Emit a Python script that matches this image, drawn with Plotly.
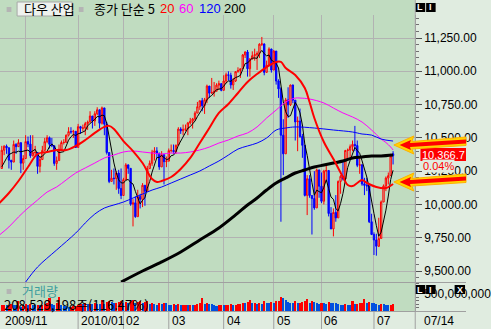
import plotly.graph_objects as go
import pandas as pd

# ---------------- data ----------------
month_days = [
    (2009, 11, [16, 17, 18, 19, 20, 23, 24, 25, 27, 30]),
    (2009, 12, [1, 2, 3, 4, 7, 8, 9, 10, 11, 14, 15, 16, 17, 18, 21, 22, 23, 24, 28, 29, 30, 31]),
    (2010, 1, [4, 5, 6, 7, 8, 11, 12, 13, 14, 15, 19, 20, 21, 22, 25, 26, 27, 28, 29]),
    (2010, 2, [1, 2, 3, 4, 5, 8, 9, 10, 11, 12, 16, 17, 18, 19, 22, 23, 24, 25, 26]),
    (2010, 3, [1, 2, 3, 4, 5, 8, 9, 10, 11, 12, 15, 16, 17, 18, 19, 22, 23, 24, 25, 26, 29, 30, 31]),
    (2010, 4, [1, 5, 6, 7, 8, 9, 12, 13, 14, 15, 16, 19, 20, 21, 22, 23, 26, 27, 28, 29, 30]),
    (2010, 5, [3, 4, 5, 6, 7, 10, 11, 12, 13, 14, 17, 18, 19, 20, 21, 24, 25, 26, 27, 28]),
    (2010, 6, [1, 2, 3, 4, 7, 8, 9, 10, 11, 14, 15, 16, 17, 18, 21, 22, 23, 24, 25, 28, 29, 30]),
    (2010, 7, [1, 2, 6, 7, 8, 9, 12, 13, 14]),
]
dates = [f"{y}-{m:02d}-{d:02d}" for y, m, days in month_days for d in days]

opens = [
    10270, 10407, 10437, 10426, 10332, 10318, 10451, 10434, 10464, 10310,
    10345, 10472, 10453, 10366, 10389, 10390, 10286, 10337, 10406, 10472, 10501, 10452, 10441, 10308, 10329, 10414, 10465, 10466, 10520, 10547, 10545, 10549,
    10428, 10584, 10572, 10574, 10607, 10618, 10664, 10627, 10681, 10711, 10610, 10725, 10603, 10390, 10173, 10197, 10194, 10236, 10120,
    10067, 10186, 10297, 10271, 10002, 10012, 9908, 10059, 10038, 10144, 10099, 10269, 10309, 10393, 10402, 10383, 10282, 10374, 10321,
    10325, 10404, 10406, 10397, 10444, 10566, 10553, 10564, 10567, 10612, 10625, 10642, 10686, 10734, 10779, 10742, 10786, 10889, 10836, 10841, 10850, 10896, 10907,
    10857, 10927, 10974, 10970, 10898, 10927, 10997, 11006, 11019, 11123, 11145, 11019, 11092, 11117, 11125, 11134, 11204, 11205, 10992, 11045, 11167,
    11009, 11152, 10927, 10868, 10520, 10380, 10785, 10748, 10897, 10783, 10620, 10626, 10511, 10444, 10068, 10193, 10067, 10044, 9974, 10259,
    10137, 10024, 10250, 10255, 9932, 9816, 9940, 9899, 10173, 10211, 10191, 10405, 10409, 10434, 10451, 10442, 10294, 10298, 10153, 10144, 10139, 9870,
    9774, 9733, 9686, 9744, 10018, 10139, 10198, 10216, 10380,
]
highs = [
    10440, 10445, 10450, 10426, 10332, 10480, 10460, 10490, 10464, 10370,
    10520, 10510, 10520, 10520, 10440, 10390, 10360, 10440, 10500, 10520, 10510, 10500, 10441, 10360, 10450, 10480, 10490, 10525, 10580, 10580, 10560, 10550,
    10605, 10590, 10600, 10620, 10630, 10700, 10664, 10700, 10730, 10711, 10735, 10725, 10620, 10390, 10260, 10270, 10250, 10260, 10270,
    10200, 10310, 10300, 10271, 10040, 10060, 10110, 10080, 10160, 10144, 10290, 10330, 10410, 10430, 10430, 10390, 10400, 10374, 10360,
    10420, 10450, 10450, 10450, 10580, 10580, 10600, 10600, 10620, 10650, 10650, 10700, 10770, 10780, 10800, 10800, 10900, 10890, 10950, 10920, 10910, 10930, 10910,
    10970, 10990, 11000, 10990, 10950, 11000, 11030, 11020, 11130, 11150, 11160, 11100, 11150, 11170, 11150, 11210, 11258, 11210, 11080, 11180, 11170,
    11160, 11152, 10940, 10880, 10640, 10800, 10880, 10900, 10900, 10783, 10660, 10720, 10530, 10444, 10220, 10220, 10067, 10250, 10270, 10260,
    10240, 10260, 10300, 10255, 9980, 9970, 10070, 10180, 10220, 10320, 10410, 10420, 10450, 10480, 10590, 10480, 10350, 10300, 10200, 10200, 10139, 9930,
    9790, 9780, 9900, 10030, 10150, 10210, 10240, 10380, 10400,
]
lows = [
    10270, 10370, 10380, 10270, 10260, 10318, 10380, 10434, 10235, 10260,
    10345, 10430, 10350, 10360, 10370, 10230, 10240, 10337, 10406, 10460, 10420, 10430, 10290, 10260, 10329, 10400, 10450, 10466, 10510, 10530, 10500, 10425,
    10428, 10530, 10550, 10520, 10560, 10618, 10570, 10590, 10670, 10570, 10600, 10520, 10375, 10160, 10173, 10150, 10110, 10080, 10040,
    10067, 10185, 10230, 9990, 9835, 9900, 9908, 9970, 9980, 9990, 10099, 10269, 10290, 10330, 10350, 10260, 10282, 10150, 10280,
    10325, 10390, 10380, 10380, 10444, 10530, 10520, 10550, 10520, 10600, 10570, 10630, 10686, 10710, 10700, 10680, 10760, 10800, 10830, 10810, 10850, 10860, 10850,
    10857, 10910, 10930, 10870, 10860, 10920, 10990, 10950, 11019, 11100, 10960, 10960, 11090, 11080, 11010, 11100, 11190, 10970, 10990, 11045, 10990,
    11009, 10900, 10800, 9870, 10220, 10380, 10650, 10740, 10760, 10480, 10400, 10500, 10350, 10060, 9920, 10050, 9774, 9960, 9974, 10050,
    10010, 10000, 10170, 9910, 9815, 9760, 9870, 9899, 10080, 10180, 10191, 10340, 10350, 10400, 10400, 10280, 10230, 10140, 10070, 10100, 9860, 9770,
    9620, 9615, 9680, 9744, 10018, 10100, 10150, 10216, 10300,
]
closes = [
    10407, 10437, 10426, 10332, 10318, 10451, 10434, 10464, 10310, 10345,
    10472, 10453, 10366, 10389, 10390, 10286, 10337, 10406, 10472, 10501, 10452, 10441, 10308, 10329, 10414, 10465, 10466, 10520, 10547, 10545, 10549, 10428,
    10584, 10572, 10574, 10607, 10618, 10664, 10627, 10681, 10711, 10610, 10725, 10603, 10390, 10173, 10197, 10194, 10236, 10120, 10067,
    10186, 10297, 10271, 10002, 10012, 9908, 10059, 10038, 10144, 10099, 10269, 10309, 10393, 10402, 10383, 10282, 10374, 10321, 10325,
    10404, 10406, 10397, 10444, 10566, 10553, 10564, 10567, 10612, 10625, 10642, 10686, 10734, 10779, 10742, 10786, 10889, 10836, 10841, 10850, 10896, 10907, 10857,
    10927, 10974, 10970, 10898, 10927, 10997, 11006, 11019, 11123, 11145, 11019, 11092, 11117, 11125, 11134, 11204, 11205, 10992, 11045, 11167, 11009,
    11152, 10927, 10868, 10520, 10380, 10785, 10748, 10897, 10783, 10620, 10626, 10511, 10444, 10068, 10193, 10067, 10044, 9974, 10259, 10137,
    10024, 10250, 10255, 9932, 9816, 9940, 9899, 10173, 10211, 10191, 10405, 10409, 10434, 10451, 10442, 10294, 10298, 10153, 10144, 10139, 9870, 9774,
    9733, 9686, 9744, 10018, 10139, 10198, 10216, 10363, 10366.7,
]
prior_closes = [10247, 10291, 10197, 10270]  # four sessions before the first candle (for the 5-day average)

volumes_m = [  # millions of shares
    165, 180, 170, 190, 215, 180, 175, 300, 120, 190,
    210, 185, 200, 180, 170, 190, 175, 185, 200, 240, 380, 200, 190, 220, 400, 180, 150, 140, 110, 130, 140, 160,
    190, 210, 200, 220, 205, 215, 200, 230, 210, 195, 320, 210, 260, 300, 250, 230, 240, 270, 280,
    230, 250, 220, 300, 330, 240, 260, 290, 230, 250, 280, 210, 220, 200, 190, 230, 210, 240, 220,
    190, 180, 200, 185, 210, 170, 180, 190, 175, 185, 170, 190, 200, 220, 390, 200, 230, 210, 195, 190, 160, 180, 190,
    170, 175, 180, 200, 185, 190, 200, 210, 240, 230, 250, 330, 220, 230, 210, 220, 200, 280, 240, 230, 260,
    220, 280, 300, 420, 380, 320, 250, 240, 230, 280, 220, 230, 250, 300, 360, 230, 280, 260, 240, 200,
    230, 220, 200, 250, 240, 230, 220, 210, 190, 180, 200, 190, 180, 300, 200, 210, 220, 230, 340, 230, 250, 240,
    230, 200, 190, 210, 200, 185, 170, 179.04, 208.53,
]

# moving averages (trading-day index, value)
ma20_idx = [-1, 3, 7, 11, 15, 19, 23, 27, 31, 35, 39, 43, 45, 47, 51, 55, 59, 63, 65, 67, 71, 75, 79, 83, 87, 91, 95, 99, 103, 107,
            111, 115, 117, 119, 123, 127, 129, 131, 135, 139, 143, 145, 147, 149, 151, 153, 157, 161, 164]
ma20_val = [10011, 10086, 10176, 10281, 10379, 10394, 10409, 10409, 10439, 10484, 10537, 10582, 10590, 10567, 10476, 10401, 10311,
            10191, 10169, 10176, 10206, 10266, 10349, 10461, 10574, 10687, 10754, 10837, 10920, 10980, 11032, 11070, 11070, 11025,
            10972, 10874, 10769, 10649, 10469, 10341, 10206, 10146, 10138, 10161, 10183, 10161, 10131, 10123, 10153]
ma60_idx = [-1, 3, 7, 11, 15, 19, 23, 27, 31, 35, 39, 43, 47, 51, 55, 59, 63, 67, 71, 75, 79, 83, 87, 91, 95, 99, 103, 107, 111,
            115, 119, 123, 125, 129, 135, 139, 143, 147, 151, 155, 159, 161, 163, 164]
ma60_val = [9770, 9831, 9906, 9973, 10033, 10093, 10131, 10184, 10236, 10274, 10311, 10349, 10371, 10394, 10401, 10394, 10386, 10379,
            10386, 10386, 10394, 10409, 10431, 10461, 10484, 10514, 10537, 10582, 10649, 10709, 10769, 10799, 10799, 10792, 10762,
            10724, 10687, 10657, 10619, 10559, 10491, 10465, 10431, 10409]
ma120_idx = [10, 15, 23, 31, 35, 39, 43, 47, 51, 55, 59, 63, 67, 71, 75, 79, 83, 87, 91, 95, 99, 103, 107, 111, 115, 119, 123, 131,
             139, 147, 151, 155, 159, 164]
ma120_val = [9417, 9530, 9658, 9785, 9861, 9928, 9973, 9996, 10018, 10048, 10078, 10108, 10131, 10161, 10191, 10221, 10251, 10289,
             10326, 10371, 10416, 10439, 10461, 10499, 10559, 10574, 10582, 10574, 10559, 10544, 10529, 10521, 10491, 10476]
ma200_idx = [50, 59, 67, 75, 83, 91, 98, 103, 107, 111, 115, 119, 123, 127, 131, 135, 139, 143, 147, 151, 155, 159, 164]
ma200_val = [9417, 9500, 9568, 9643, 9733, 9823, 9921, 9996, 10048, 10108, 10161, 10199, 10236, 10259, 10281, 10296, 10311, 10326,
             10349, 10356, 10364, 10364, 10371]

price_ticks = [9500, 9750, 10000, 10250, 10500, 10750, 11000, 11250]
price_tick_text = ["9,500.00", "9,750.00", "10,000.00", "10,250.00", "10,500.00", "10,750.00", "11,000.00", "11,250.00"]
month_labels = {"2009-11-16": "2009/11", "2010-01-04": "2010/01", "2010-02-01": "02", "2010-03-01": "03",
                "2010-04-01": "04", "2010-05-03": "05", "2010-06-01": "06", "2010-07-01": "07"}
grid_dates = ["2009-12-01", "2010-01-04", "2010-02-01", "2010-03-01", "2010-04-01", "2010-05-03", "2010-06-01", "2010-07-01"]
last_label = "10,366.7"
last_change = "0.04%"
volume_text = "208,529,198주(116.47%)"

# ---------------- figure ----------------
W, H = 491, 329
PR = 437  # right edge of the plotting area (px)
GREEN = "#C0DCC0"
PANEL = "#E0ECE0"
GRID = "#B2B2B2"
SEP = "#A0A0A0"
NUMFONT = "Liberation Sans, Arial, sans-serif"
KRFONT = "Noto Sans CJK KR, sans-serif"


def fx(x):
    return x / W


def fy(y):
    return 1 - y / H


idx = list(range(len(dates)))
pos = {d: i for i, d in enumerate(dates)}
grid_idx = [pos[d] for d in grid_dates]

ma5 = pd.Series(prior_closes + closes).rolling(5).mean().iloc[len(prior_closes):].tolist()
vol_colors = ["#FF0000" if (i == 0 or volumes_m[i] > volumes_m[i - 1]) else "#0050E0" for i in idx]

fig = go.Figure()
fig.add_trace(go.Candlestick(
    x=idx, open=opens, high=highs, low=lows, close=closes,
    increasing=dict(line=dict(color="#FF0000", width=1), fillcolor="rgba(0,0,0,0)"),
    decreasing=dict(line=dict(color="#0000FF", width=1), fillcolor="#0000FF"),
    whiskerwidth=0, hoverinfo="skip", showlegend=False, xaxis="x", yaxis="y"))
fig.add_trace(go.Scatter(x=idx, y=ma5, mode="lines", line=dict(color="#000000", width=1),
                         hoverinfo="skip", showlegend=False))
fig.add_trace(go.Scatter(x=ma60_idx, y=ma60_val, mode="lines", line=dict(color="#FF00FF", width=1, shape="spline"),
                         hoverinfo="skip", showlegend=False))
fig.add_trace(go.Scatter(x=ma120_idx, y=ma120_val, mode="lines", line=dict(color="#0000FF", width=1, shape="spline"),
                         hoverinfo="skip", showlegend=False))
fig.add_trace(go.Scatter(x=ma200_idx, y=ma200_val, mode="lines", line=dict(color="#000000", width=3, shape="spline"),
                         hoverinfo="skip", showlegend=False))
fig.add_trace(go.Scatter(x=ma20_idx, y=ma20_val, mode="lines", line=dict(color="#FF0000", width=2, shape="spline"),
                         hoverinfo="skip", showlegend=False))
fig.add_trace(go.Bar(x=idx, y=volumes_m, marker=dict(color=vol_colors, line=dict(width=0)), width=0.85,
                     hoverinfo="skip", showlegend=False, xaxis="x2", yaxis="y2"))

xr = [(0 - 1.86) / 2.514, (PR - 1.86) / 2.514]
common_x = dict(domain=[0, PR / W], range=xr, showgrid=True, gridcolor=GRID, gridwidth=1,
                tickmode="array", tickvals=grid_idx, showticklabels=False, ticks="",
                zeroline=False, showline=False, fixedrange=True)

fig.update_layout(
    width=W, height=H, autosize=False,
    margin=dict(l=0, r=0, t=0, b=0, pad=0),
    paper_bgcolor=PANEL, plot_bgcolor=GREEN,
    boxgap=0.2, bargap=0,
    showlegend=False,
    xaxis=dict(anchor="y", rangeslider=dict(visible=False), **common_x),
    xaxis2=dict(anchor="y2", matches="x", **common_x),
    yaxis=dict(domain=[fy(282), fy(15)], range=[9417.4, 11422.8], side="right", anchor="x",
               showgrid=True, gridcolor=GRID, gridwidth=1, zeroline=False,
               tickmode="array", tickvals=price_ticks, ticktext=price_tick_text,
               ticks="outside", ticklen=6, tickcolor="#505050",
               tickfont=dict(family=NUMFONT, size=12, color="#000000"),
               minor=dict(dtick=50, tick0=0, ticks="outside", ticklen=3, tickcolor="#707070", showgrid=False),
               showline=True, linecolor=SEP, fixedrange=True),
    yaxis2=dict(domain=[fy(311), fy(282)], range=[0, 850], side="right", anchor="x2",
                showgrid=False, zeroline=False,
                tickmode="array", tickvals=[500], ticktext=["500,000,000"],
                ticks="outside", ticklen=6, tickcolor="#505050",
                tickfont=dict(family=NUMFONT, size=12, color="#000000"),
                minor=dict(dtick=100, tick0=0, ticks="outside", ticklen=3, tickcolor="#707070", showgrid=False),
                showline=True, linecolor=SEP, fixedrange=True),
)

shapes = []


def rect_px(x0, y0, x1, y1, fill, line=None, layer="above"):
    shapes.append(dict(type="rect", xref="paper", yref="paper", x0=fx(x0), x1=fx(x1), y0=fy(y1), y1=fy(y0),
                       fillcolor=fill, line=dict(width=1 if line else 0, color=line or fill), layer=layer))


def path_px(pts, fill, line_color=None, width=0):
    d = "M " + " L ".join(f"{fx(x):.5f},{fy(y):.5f}" for x, y in pts) + " Z"
    shapes.append(dict(type="path", xref="paper", yref="paper", path=d, fillcolor=fill,
                       line=dict(color=line_color or fill, width=width), layer="above"))


# green header band above the price panel
rect_px(0, 0, PR, 15, GREEN, layer="below")
# panel separators
shapes.append(dict(type="line", xref="paper", yref="paper", x0=0, x1=1, y0=fy(282.5), y1=fy(282.5),
                   line=dict(color=SEP, width=1), layer="above"))
shapes.append(dict(type="line", xref="paper", yref="paper", x0=0, x1=1, y0=fy(311.5), y1=fy(311.5),
                   line=dict(color=SEP, width=1), layer="above"))
shapes.append(dict(type="line", xref="paper", yref="paper", x0=fx(PR + 0.5), x1=fx(PR + 0.5), y0=0, y1=1,
                   line=dict(color=SEP, width=1), layer="above"))
# separators in the date strip
for d, lab in month_labels.items():
    if pos[d] > 0:
        shapes.append(dict(type="line", xref="x", yref="paper", x0=pos[d], x1=pos[d], y0=0, y1=fy(311.5),
                           line=dict(color=SEP, width=1), layer="above"))

# header widgets
rect_px(7, 7, 12, 12, "#B4B4B4")
rect_px(83, 7, 88, 12, "#B4B4B4")
rect_px(18, 2, 76, 16, "#EEF2EE", line="#A8A8A8")
rect_px(7, 289, 12, 294, "#B4B4B4")
# LI / X icons
for (x0, y0, x1, y1) in [(438, 3, 448, 12), (449, 3, 459, 12), (438, 285, 448, 294), (449, 285, 459, 294), (479, 285, 490, 294)]:
    rect_px(x0, y0, x1, y1, "#000000")

# last price box
rect_px(443, 148, 491, 161, "#FF0000")

# arrows (yellow glow + red core)
for dy in (0, 37):
    outer = [(415, 145), (436, 136), (434, 141.5), (491, 137), (491, 145.5), (434, 149), (436, 154)]
    inner = [(421, 145), (433, 140), (432, 143), (491, 139.5), (491, 143.5), (432, 147), (433, 150)]
    path_px([(x, y + dy) for x, y in outer], "#FFD400", "#FFB000", 1)
    path_px([(x, y + dy) for x, y in inner], "#FF0000")

fig.update_layout(shapes=shapes)

ann = []


def text_px(x, y, s, size=12, color="#000000", family=NUMFONT, xanchor="left", bg=None, bold=False):
    a = dict(xref="paper", yref="paper", x=fx(x), y=fy(y), text=(f"<b>{s}</b>" if bold else s), showarrow=False,
             xanchor=xanchor, yanchor="middle", font=dict(size=size, color=color, family=family))
    if bg:
        a["bgcolor"] = bg
        a["borderpad"] = 0
    ann.append(a)


text_px(23, 9, "다우 산업", size=13, family=KRFONT)
text_px(97, 9, "종가 단순 5", size=13, family=KRFONT)
text_px(167, 9, "20", size=13, color="#FF0000")
text_px(187, 9, "60", size=13, color="#FF00FF")
text_px(208, 9, "120", size=13, color="#0000FF")
text_px(234, 9, "200", size=13, color="#000000")
for (cx, cy, s) in [(443, 7.5, "L"), (454, 7.5, "I"), (443, 289.5, "L"), (454, 289.5, "I"), (484.5, 289.5, "X")]:
    text_px(cx, cy, s, size=9, color="#FFFFFF", xanchor="center", bold=True)

text_px(21, 290, "거래량", size=13, color="#3E9E9E", family=KRFONT)
text_px(2, 304, volume_text, size=13, family=KRFONT)

for d, lab in month_labels.items():
    ann.append(dict(xref="x", yref="paper", x=pos[d], y=fy(320.5), text=lab, showarrow=False,
                    xanchor="left", yanchor="middle", xshift=1,
                    font=dict(size=12, color="#000000", family=NUMFONT)))
text_px(445, 320.5, "07/14", size=12)

ann.append(dict(xref="paper", yref="paper", x=fx(467), y=fy(154.5), text=last_label, showarrow=False,
                xanchor="center", yanchor="middle", borderpad=0,
                font=dict(size=11, color="#FFFFFF", family=NUMFONT)))
text_px(445, 166, last_change, size=11, color="#FF0000", bg=PANEL)

fig.update_layout(annotations=ann)

fig.write_html("out.html", config={"displayModeBar": False, "staticPlot": True})
